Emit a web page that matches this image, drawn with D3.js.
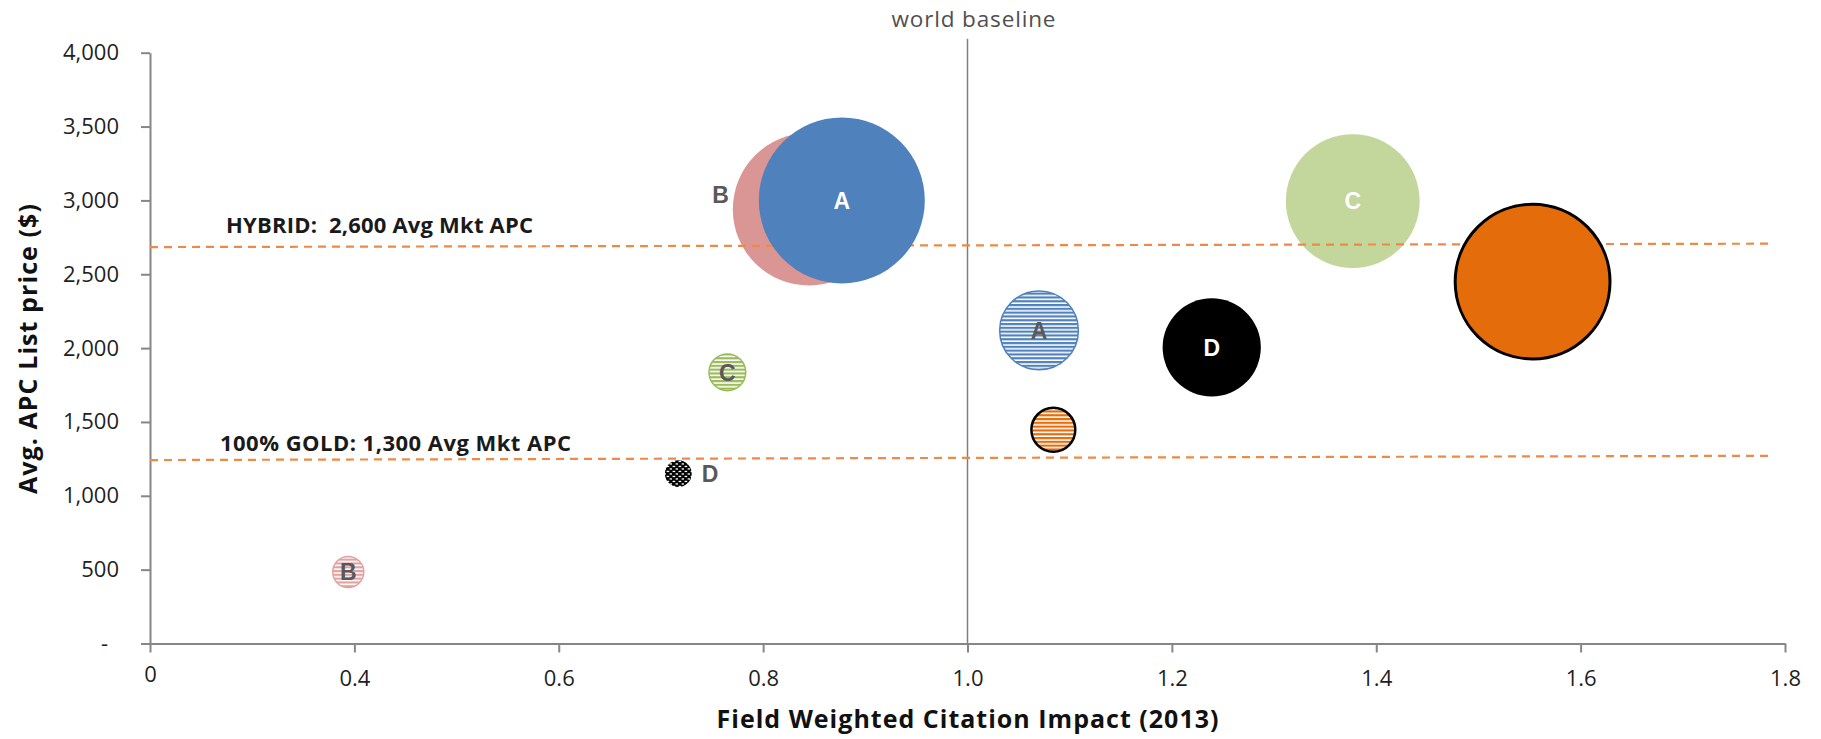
<!DOCTYPE html>
<html>
<head>
<meta charset="utf-8">
<script src="https://cdn.jsdelivr.net/npm/d3@7"></script>
<style>
    body { margin: 0; background: #fff; }
    svg { display: block; }
</style>
</head>
<body>
<div class="chart__container"></div>
<script>
/*---------------------------Data---------------------------*/

// first two bubbles sit behind the reference lines, same as the source sheet's series order
const publishers  = ["B", "C", "A", "E", "D", "A", "E", "C", "D", "B"];
const models      = ["hybrid", "hybrid", "hybrid", "hybrid", "hybrid", "gold", "gold", "gold", "gold", "gold"];
const pointLabels = ["B", "C", "A", "", "D", "A", "", "C", "D", "B"];
const fwci        = [0.845, 1.377, 0.877, 1.553, 1.239, 1.070, 1.084, 0.765, 0.717, 0.394];
const apcPrice    = [2940, 2995, 3000, 2450, 2005, 2120, 1447, 1836, 1150, 484];
const bubbleSize  = [84.5, 65, 100, 87, 35, 22.5, 7, 4.9, 2.6, 3.5];

const xTicks      = [0.2, 0.4, 0.6, 0.8, 1.0, 1.2, 1.4, 1.6, 1.8];
const xTickLabels = ["0", "0.4", "0.6", "0.8", "1.0", "1.2", "1.4", "1.6", "1.8"];
const yTicks      = [0, 500, 1000, 1500, 2000, 2500, 3000, 3500, 4000];
const yTickLabels = ["-", "500", "1,000", "1,500", "2,000", "2,500", "3,000", "3,500", "4,000"];

const refNames  = ["HYBRID:  2,600 Avg Mkt APC", "100% GOLD: 1,300 Avg Mkt APC"];
const refStartX = [0.2, 0.2];
const refEndX   = [1.787, 1.787];
const refStartY = [2684, 1242];
const refEndY   = [2707, 1271];

const worldBaseline = 1.0;

/*---------------------------Init---------------------------*/

const CHART__WIDTH = 1821;
const CHART__HEIGHT = 739;
const MARGIN = {
    top: 52.7,
    right: 36,
    bottom: 95.5,
    left: 150,
}
const COLOR = {
    A: "#4F81BD",
    B: "#D99694",
    C: "#C3D69B",
    D: "#000000",
    E: "#E46C0A"
}
const STRIPE = {
    A: "#4F81BD",
    B: "#E0A3A2",
    C: "#9BBB59",
    E: "#E46C0A"
}
const AXIS_GREY = "#868686";
const LABEL_GREY = "#595959";
const REF_LINE = "#EE8A45";
const REF_LABEL = [{ dx: 76, dy: -14.3 }, { dx: 70, dy: -9.5 }];
const LABEL_PLACE = { "B-hybrid": "left", "D-gold": "right" };
const BEHIND_LINES = 2;

/*---------------------------Chart---------------------------*/

const xScale = d3.scaleLinear().domain([0.2, 1.8]).range([MARGIN.left, CHART__WIDTH - MARGIN.right]);
const yScale = d3.scaleLinear().domain([0, 4000]).range([CHART__HEIGHT - MARGIN.bottom, MARGIN.top]);
const rScale = d3.scaleSqrt().domain([0, 100]).range([0, 83]);

const points = fwci.map((x, i) => ({
    x: x,
    y: apcPrice[i],
    size: bubbleSize[i],
    pub: publishers[i],
    model: models[i],
    label: pointLabels[i]
}));

const svg = d3.select(".chart__container").append("svg")
    .attr("width", CHART__WIDTH)
    .attr("height", CHART__HEIGHT)
    .style("background-color", "#fff");

//patterns for the gold (hatched) bubbles

const defs = svg.append("defs");

Object.entries(STRIPE).forEach(([key, color]) => {
    const p = defs.append("pattern")
        .attr("id", `stripe-${key}`)
        .attr("patternUnits", "userSpaceOnUse")
        .attr("width", 6)
        .attr("height", 3.8);
    p.append("rect").attr("width", 6).attr("height", 3.8).attr("fill", "#fff");
    p.append("rect").attr("width", 6).attr("height", 2.2).attr("fill", color);
});

const dots = defs.append("pattern")
    .attr("id", "dots-D")
    .attr("patternUnits", "userSpaceOnUse")
    .attr("width", 6)
    .attr("height", 5);
dots.append("rect").attr("width", 6).attr("height", 5).attr("fill", "#000");
dots.append("rect").attr("x", 0.6).attr("y", 0.8).attr("width", 2.6).attr("height", 1.3).attr("fill", "#fff");
dots.append("rect").attr("x", 3.6).attr("y", 3.3).attr("width", 2.6).attr("height", 1.3).attr("fill", "#fff");

const fillOf = d => {
    if (d.model === "hybrid") return COLOR[d.pub];
    return d.pub === "D" ? "url(#dots-D)" : `url(#stripe-${d.pub})`;
}
const strokeOf = d => {
    if (d.pub === "E") return "#000";
    if (d.model === "gold" && d.pub !== "D") return STRIPE[d.pub];
    return "none";
}
const strokeWidthOf = d => {
    if (d.pub === "E") return d.model === "hybrid" ? 3 : 2.5;
    return 1.5;
}

//create axes

const abscissa = d3.axisBottom(xScale)
    .tickValues(xTicks)
    .tickFormat((d, i) => xTickLabels[i])
    .tickSize(9)
    .tickSizeOuter(0)
    .tickPadding(18);

const ordinate = d3.axisLeft(yScale)
    .tickValues(yTicks)
    .tickFormat((d, i) => yTickLabels[i])
    .tickSize(9)
    .tickSizeOuter(0)
    .tickPadding(22);

const gx = svg.append("g")
    .attr("id", "x-axis")
    .attr("transform", `translate(0,${yScale(0)})`)
    .call(abscissa);

const gy = svg.append("g")
    .attr("id", "y-axis")
    .attr("transform", `translate(${xScale(0.2)},0)`)
    .call(ordinate);

[gx, gy].forEach(g => {
    g.selectAll("path, line").attr("stroke", AXIS_GREY).attr("stroke-width", 2);
    g.selectAll("text")
        .attr("fill", "#1f1f1f")
        .style("font-family", "'Open Sans', sans-serif")
        .style("font-size", "22px");
});
gy.selectAll(".tick text").filter(d => d === 0).attr("dx", "-0.5em");
// the first x label sits a touch higher in the source
gx.selectAll(".tick text").filter(d => d === 0.2).attr("dy", "0.5em");

//world baseline

svg.append("line")
    .attr("x1", xScale(worldBaseline))
    .attr("x2", xScale(worldBaseline))
    .attr("y1", yScale(0))
    .attr("y2", yScale(4000) - 14)
    .attr("stroke", "#7F7F7F")
    .attr("stroke-width", 1.5);

svg.append("text")
    .attr("x", xScale(worldBaseline) + 6)
    .attr("y", 26.7)
    .attr("text-anchor", "middle")
    .attr("textLength", 164)
    .attr("fill", "#505050")
    .style("font-family", "'Open Sans', sans-serif")
    .style("font-size", "22.5px")
    .text("world baseline");

//bubbles

const drawBubbles = (layer, data) => {
    layer.selectAll("circle")
        .data(data)
        .enter()
        .append("circle")
        .attr("cx", d => xScale(d.x))
        .attr("cy", d => yScale(d.y))
        .attr("r", d => rScale(d.size))
        .attr("fill", fillOf)
        .attr("stroke", strokeOf)
        .attr("stroke-width", strokeWidthOf);
}

drawBubbles(svg.append("g").attr("class", "bubbles-back"), points.slice(0, BEHIND_LINES));

//reference lines

const refs = svg.append("g").attr("class", "ref-lines");

refNames.forEach((name, i) => {
    refs.append("line")
        .attr("x1", xScale(refStartX[i]))
        .attr("y1", yScale(refStartY[i]))
        .attr("x2", xScale(refEndX[i]))
        .attr("y2", yScale(refEndY[i]))
        .attr("stroke", REF_LINE)
        .attr("stroke-width", 2.2)
        .attr("stroke-dasharray", "8,6");

    refs.append("text")
        .attr("x", xScale(refStartX[i]) + REF_LABEL[i].dx)
        .attr("y", yScale(refStartY[i]) + REF_LABEL[i].dy)
        .attr("textLength", i === 0 ? 307 : 351)
        .attr("fill", "#1a1a1a")
        .style("white-space", "pre")
        .style("font-family", "'Open Sans', sans-serif")
        .style("font-weight", "bold")
        .style("font-size", "22px")
        .text(name);
});

drawBubbles(svg.append("g").attr("class", "bubbles-front"), points.slice(BEHIND_LINES));

//bubble labels

svg.append("g")
    .selectAll("text")
    .data(points.filter(d => d.label !== ""))
    .enter()
    .append("text")
    .attr("x", d => {
        const place = LABEL_PLACE[`${d.pub}-${d.model}`];
        const cx = xScale(d.x);
        const r = rScale(d.size);
        if (place === "left") return cx - r - 4;
        if (place === "right") return cx + r + 10;
        return cx;
    })
    .attr("y", d => yScale(d.y) + (LABEL_PLACE[`${d.pub}-${d.model}`] === "left" ? -15 : 0))
    .attr("dy", "0.36em")
    .attr("text-anchor", d => {
        const place = LABEL_PLACE[`${d.pub}-${d.model}`];
        if (place === "left") return "end";
        if (place === "right") return "start";
        return "middle";
    })
    .attr("fill", d => (d.model === "hybrid" && LABEL_PLACE[`${d.pub}-hybrid`] === undefined) ? "#fff" : LABEL_GREY)
    .style("font-family", "'Liberation Sans', Arial, sans-serif")
    .style("font-weight", "bold")
    .style("font-size", "23px")
    .text(d => d.label);

//axis titles

svg.append("text")
    .attr("x", xScale(worldBaseline))
    .attr("y", 728)
    .attr("text-anchor", "middle")
    .attr("textLength", 502)
    .attr("fill", "#111")
    .style("font-family", "'Open Sans', sans-serif")
    .style("font-weight", "bold")
    .style("font-size", "25px")
    .text("Field Weighted Citation Impact (2013)");

svg.append("text")
    .attr("transform", `translate(36.7,${yScale(2000) + 1})rotate(-90)`)
    .attr("text-anchor", "middle")
    .attr("textLength", 290)
    .attr("fill", "#111")
    .style("font-family", "'Open Sans', sans-serif")
    .style("font-weight", "bold")
    .style("font-size", "25px")
    .text("Avg. APC List price ($)");
</script>
</body>
</html>
